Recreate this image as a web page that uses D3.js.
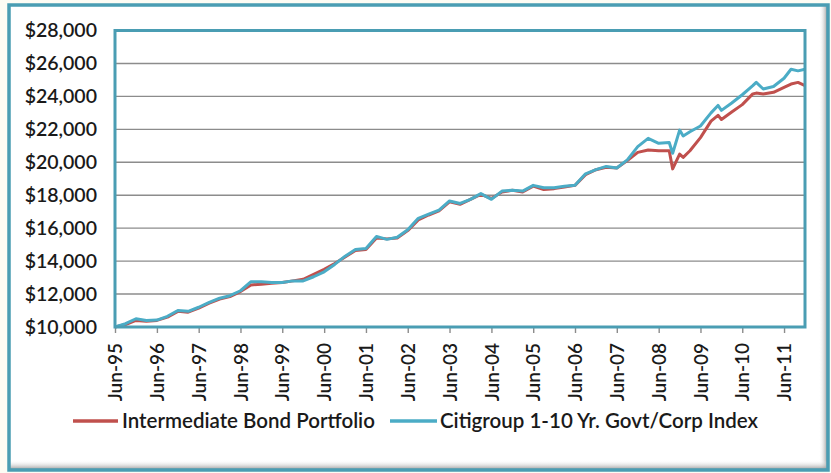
<!DOCTYPE html>
<html>
<head>
<meta charset="utf-8">
<script src="https://cdn.jsdelivr.net/npm/d3@7"></script>
<style>
  html, body { margin: 0; padding: 0; background: #fff; }
  svg { display: block; }
</style>
</head>
<body>
<svg id="chart" width="831" height="473"></svg>
<script>
// ---- data ----
const dates = ["1995-06","1995-09","1995-12","1996-03","1996-06","1996-09","1996-12","1997-03","1997-06","1997-09","1997-12","1998-03","1998-06","1998-09","1998-12","1999-03","1999-06","1999-09","1999-12","2000-03","2000-06","2000-09","2000-12","2001-03","2001-06","2001-09","2001-12","2002-03","2002-06","2002-09","2002-12","2003-03","2003-06","2003-09","2003-12","2004-03","2004-06","2004-09","2004-12","2005-03","2005-06","2005-09","2005-12","2006-03","2006-06","2006-09","2006-12","2007-03","2007-06","2007-09","2007-12","2008-03","2008-06","2008-09","2008-10","2008-12","2009-01","2009-03","2009-06","2009-09","2009-11","2009-12","2010-03","2010-06","2010-09","2010-10","2010-12","2011-03","2011-06","2011-08","2011-10","2011-12"];
const bondPortfolio = [10000,10150,10400,10350,10400,10600,10950,10900,11150,11450,11700,11850,12150,12550,12600,12650,12700,12800,12900,13200,13500,13850,14250,14650,14700,15400,15350,15400,15850,16500,16800,17050,17600,17450,17750,18050,17800,18200,18300,18200,18550,18350,18400,18500,18600,19250,19550,19700,19650,20100,20600,20750,20700,20700,19600,20500,20300,20700,21500,22500,22850,22600,23050,23500,24150,24200,24150,24250,24550,24750,24850,24650];
const citigroupIndex = [10000,10200,10500,10400,10420,10650,11000,10950,11200,11500,11750,11900,12200,12750,12750,12700,12700,12800,12800,13050,13350,13800,14300,14700,14770,15500,15320,15450,15900,16600,16850,17100,17650,17500,17750,18100,17750,18250,18300,18250,18600,18450,18450,18550,18600,19300,19550,19750,19650,20150,20950,21450,21150,21200,20550,21950,21600,21850,22200,23000,23450,23150,23600,24100,24650,24850,24450,24600,25100,25650,25550,25650];
const seriesNames = ["Intermediate Bond Portfolio", "Citigroup 1-10 Yr. Govt/Corp Index"];
const yTicks = [10000,12000,14000,16000,18000,20000,22000,24000,26000,28000];
const xTickYears = [1995,1996,1997,1998,1999,2000,2001,2002,2003,2004,2005,2006,2007,2008,2009,2010,2011];

// ---- layout ----
const W = 831, H = 473;
const plot = { left: 115, right: 805, top: 30.5, bottom: 327 };
const RED = "#C0504D", TEAL = "#4BACC6", FRAME = "#4A9DB3";
const FONT = "Lato, 'Open Sans', sans-serif";

const svg = d3.select("#chart");
const parse = d3.timeParse("%Y-%m");

const x = d3.scaleTime()
  .domain([parse("1995-06"), parse("2011-12")])
  .range([plot.left, plot.right]);
const y = d3.scaleLinear()
  .domain([10000, 28000])
  .range([plot.bottom, plot.top]);

// defs: shadows
const defs = svg.append("defs");
const gr = defs.append("linearGradient").attr("id","shR").attr("x1","0").attr("x2","1").attr("y1","0").attr("y2","0");
gr.append("stop").attr("offset","0").attr("stop-color","#fff").attr("stop-opacity",0);
gr.append("stop").attr("offset","1").attr("stop-color","#9a9a9a").attr("stop-opacity",0.9);
const gb = defs.append("linearGradient").attr("id","shB").attr("x1","0").attr("x2","0").attr("y1","0").attr("y2","1");
gb.append("stop").attr("offset","0").attr("stop-color","#fff").attr("stop-opacity",0);
gb.append("stop").attr("offset","1").attr("stop-color","#9a9a9a").attr("stop-opacity",0.9);

// outer frame
svg.append("rect").attr("x",0).attr("y",0).attr("width",W).attr("height",H).attr("fill","#fdfcf4");
svg.append("rect").attr("x",9).attr("y",5).attr("width",819).attr("height",465).attr("fill","#fff");
svg.append("rect").attr("x",819).attr("y",6).attr("width",8).attr("height",463).attr("fill","url(#shR)");
svg.append("rect").attr("x",10).attr("y",460).attr("width",817).attr("height",9).attr("fill","url(#shB)");
svg.append("rect").attr("x",9).attr("y",5).attr("width",819).attr("height",465)
  .attr("fill","none").attr("stroke",FRAME).attr("stroke-width",3.5);

// gridlines
svg.append("g").selectAll("line").data(yTicks.slice(1, -1)).join("line")
  .attr("x1", plot.left).attr("x2", plot.right)
  .attr("y1", d => y(d)).attr("y2", d => y(d))
  .attr("stroke", "#8c8c8c").attr("stroke-width", 1.4);

// y axis labels
const yAxis = d3.axisLeft(y).tickValues(yTicks).tickSize(0).tickPadding(18)
  .tickFormat(d => "$" + d3.format(",")(d));
const gy = svg.append("g").attr("transform", `translate(${plot.left},0)`).call(yAxis);
gy.select(".domain").remove();
gy.selectAll("text").attr("font-family", FONT).attr("font-size", 19.5)
  .attr("font-weight", 600).attr("fill", "#1a1a1a");

// x axis
const xTicks = xTickYears.map(yr => parse(yr + "-06"));
const xAxis = d3.axisBottom(x).tickValues(xTicks).tickSize(6).tickPadding(6)
  .tickFormat(d3.timeFormat("%b-%y"));
const gx = svg.append("g").attr("transform", `translate(0,${plot.bottom})`).call(xAxis);
gx.select(".domain").remove();
gx.selectAll(".tick line").attr("stroke", "#8c8c8c").attr("stroke-width", 1.4);
gx.selectAll("text")
  .attr("font-family", FONT).attr("font-size", 19).attr("font-weight", 600).attr("fill", "#1a1a1a")
  .attr("transform", "rotate(-90)")
  .attr("text-anchor", "end")
  .attr("x", -16).attr("y", 0).attr("dy", "0.35em");

// lines
const pts = (vals) => dates.map((d, i) => ({ d: parse(d), v: vals[i] }));
const line = d3.line().x(p => x(p.d)).y(p => y(p.v)).curve(d3.curveLinear);
svg.append("path").datum(pts(bondPortfolio)).attr("d", line)
  .attr("fill", "none").attr("stroke", RED).attr("stroke-width", 3).attr("stroke-linejoin", "round");
svg.append("path").datum(pts(citigroupIndex)).attr("d", line)
  .attr("fill", "none").attr("stroke", TEAL).attr("stroke-width", 3).attr("stroke-linejoin", "round");

// plot border
svg.append("rect").attr("x", plot.left).attr("y", plot.top)
  .attr("width", plot.right - plot.left).attr("height", plot.bottom - plot.top)
  .attr("fill", "none").attr("stroke", FRAME).attr("stroke-width", 3);

// legend
const legend = [
  { name: seriesNames[0], color: RED, x1: 73, x2: 118, tx: 122 },
  { name: seriesNames[1], color: TEAL, x1: 390, x2: 437, tx: 440 }
];
const lg = svg.append("g");
legend.forEach(l => {
  lg.append("line").attr("x1", l.x1).attr("x2", l.x2).attr("y1", 421).attr("y2", 421)
    .attr("stroke", l.color).attr("stroke-width", 3.5);
  lg.append("text").attr("x", l.tx).attr("y", 421).attr("dy", "0.35em")
    .attr("font-family", FONT).attr("font-size", 20.5).attr("font-weight", 600).attr("fill", "#1a1a1a")
    .text(l.name);
});
</script>
</body>
</html>
